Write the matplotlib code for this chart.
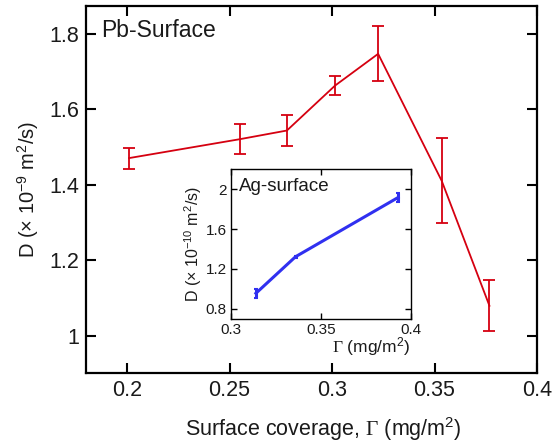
import matplotlib
matplotlib.use("Agg")
import matplotlib.pyplot as plt

plt.rcParams['font.family'] = ['Liberation Sans', 'DejaVu Sans']
plt.rcParams['mathtext.fontset'] = 'custom'
plt.rcParams['mathtext.rm'] = 'Liberation Sans'
plt.rcParams['mathtext.it'] = 'Liberation Sans:italic'
plt.rcParams['mathtext.sf'] = 'Liberation Serif'

# Main (Pb-surface) data
pb_x = [0.201, 0.255, 0.278, 0.3015, 0.3225, 0.3535, 0.3768]
pb_y = [1.471, 1.521, 1.544, 1.663, 1.747, 1.411, 1.080]
pb_err = [0.028, 0.040, 0.042, 0.025, 0.073, 0.113, 0.067]
main_xticks = [0.2, 0.25, 0.3, 0.35, 0.4]
main_xticklabels = ['0.2', '0.25', '0.3', '0.35', '0.4']
main_yticks = [1.0, 1.2, 1.4, 1.6, 1.8]
main_yticklabels = ['1', '1.2', '1.4', '1.6', '1.8']

# Inset (Ag-surface) data
ag_x = [0.314, 0.336, 0.393]
ag_y = [0.955, 1.322, 1.917]
ag_err = [0.045, 0.01, 0.048]
in_xticks = [0.3, 0.35, 0.4]
in_xticklabels = ['0.3', '0.35', '0.4']
in_yticks = [0.8, 1.2, 1.6, 2.0]
in_yticklabels = ['0.8', '1.2', '1.6', '2']

red = '#d50010'
blue = '#3030f0'
txt = '#1a1a1a'

fig = plt.figure(figsize=(5.53, 4.42), dpi=100)
ax = fig.add_axes([86/553, 1-373/442, (537-86)/553, (373-5.5)/442])
ax.errorbar(pb_x, pb_y, yerr=pb_err, color=red, lw=1.3, elinewidth=1.3,
            capsize=4.5, capthick=1.3)
ax.set_xlim(0.18, 0.4)
ax.set_ylim(0.902, 1.875)
ax.set_xticks(main_xticks)
ax.set_xticklabels(main_xticklabels)
ax.set_yticks(main_yticks)
ax.set_yticklabels(main_yticklabels)
ax.tick_params(direction='in', length=7, width=1.5, labelsize=15.5,
               top=True, right=True, pad=5, colors='black', labelcolor=txt)
for s in ax.spines.values():
    s.set_linewidth(1.6)
ax.set_xlabel(r'Surface coverage, $\mathsf{\Gamma}$ (mg/m$^2$)', fontsize=15.5,
              color=txt)
ax.xaxis.set_label_coords(0.526, -0.115)
ax.set_ylabel(r'D (× 10$^{-9}$ m$^2$/s)', fontsize=14.5, labelpad=6, color=txt)
ax.text(0.033, 0.933, 'Pb-Surface', transform=ax.transAxes, fontsize=16.5,
        va='center', ha='left', color=txt)

axi = fig.add_axes([230.7/553, 1-318.7/442, 180/553, 149.4/442])
axi.errorbar(ag_x, ag_y, yerr=ag_err, color=blue, lw=2.2, elinewidth=2.2,
             capsize=1.5, capthick=1.5)
axi.set_xlim(0.3, 0.4)
axi.set_ylim(0.7, 2.2)
axi.set_xticks(in_xticks)
axi.set_xticklabels(in_xticklabels)
axi.set_yticks(in_yticks)
axi.set_yticklabels(in_yticklabels)
axi.tick_params(direction='in', length=4, width=1.0, labelsize=11,
                top=True, right=True, pad=3, labelcolor=txt)
for s in axi.spines.values():
    s.set_linewidth(1.0)
axi.set_xlabel(r'$\mathsf{\Gamma}$ (mg/m$^2$)', fontsize=12.5, loc='right',
               labelpad=-1, color=txt)
axi.set_ylabel(r'D (× 10$^{-10}$ m$^2$/s)', fontsize=11.5, labelpad=1, color=txt)
axi.text(0.048, 0.888, 'Ag-surface', transform=axi.transAxes, fontsize=13.5,
         va='center', ha='left', color=txt)

fig.savefig('out.png', dpi=100)
